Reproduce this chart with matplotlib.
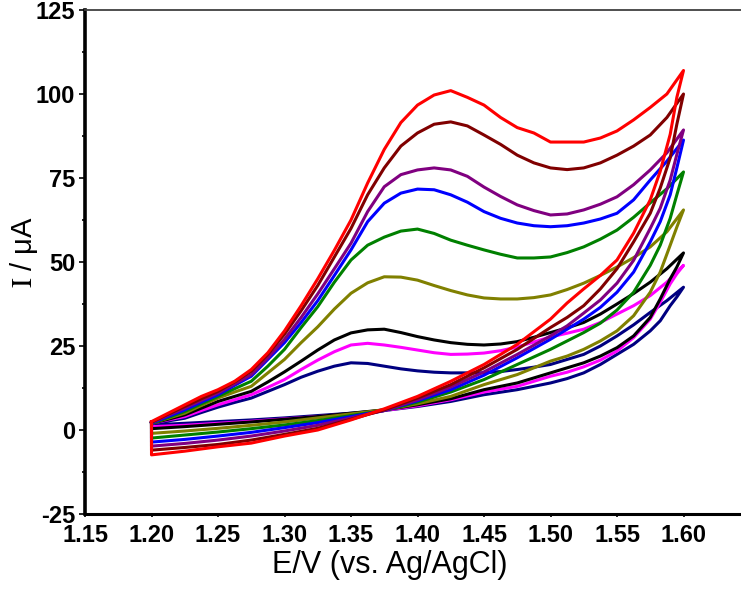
import matplotlib.pyplot as plt
import numpy as np

plt.rcParams['font.family'] = ['Liberation Sans', 'DejaVu Sans']
plt.rcParams['mathtext.fontset'] = 'stix'
plt.rcParams['axes.unicode_minus'] = False

# potentials for the anodic (forward) and cathodic (reverse) sweeps, V
E_fwd = [1.2000, 1.2125, 1.2250, 1.2375, 1.2500, 1.2625, 1.2750, 1.2875,
         1.3000, 1.3125, 1.3250, 1.3375, 1.3500, 1.3625, 1.3750, 1.3875,
         1.4000, 1.4125, 1.4250, 1.4375, 1.4500, 1.4625, 1.4750, 1.4875,
         1.5000, 1.5125, 1.5250, 1.5375, 1.5500, 1.5625, 1.5750, 1.5875,
         1.6000]
E_rev = [1.6000, 1.5950, 1.5900, 1.5825, 1.5750, 1.5625, 1.5500, 1.5375,
         1.5250, 1.5125, 1.5000, 1.4750, 1.4500, 1.4250, 1.4000, 1.3750,
         1.3500, 1.3250, 1.3000, 1.2750, 1.2500, 1.2250, 1.2000]

# currents in uA, one list per scan
navy_fwd = [2, 2.7, 3.5, 5.2, 6.8, 8.2, 9.5, 11.5, 13.5, 15.7, 17.5, 19, 20, 19.8,
            19, 18.2, 17.6, 17.2, 17, 17, 17, 17.4, 18, 18.7, 19.5, 21, 22.5, 25,
            28, 31.3, 35, 38.5, 42.5]
navy_rev = [42.5, 39.6, 37, 32.5, 29.5, 25.5, 22.5, 19.5, 17, 15.3, 14, 12, 10.5,
            8.5, 7, 5.8, 5, 4.3, 3.6, 3, 2.5, 2, 1.5]

magenta_fwd = [2, 3, 4, 5.8, 7.5, 9, 10.5, 12.7, 15, 18, 20.8, 23.3, 25.3, 25.8,
               25.3, 24.6, 23.8, 23, 22.5, 22.6, 22.9, 23.6, 24.7, 26.2, 27.7,
               28.8, 30, 32, 34.5, 37, 40, 44, 49]
magenta_rev = [49, 46.5, 43.5, 38, 33, 27.5, 23.5, 20.8, 18.8, 17.2, 16, 13, 11.3,
               9, 7.2, 5.8, 4.8, 4, 3.3, 2.6, 2, 1.4, 1]

black_fwd = [2, 3.2, 4.5, 6.5, 8.5, 10, 11.5, 14.3, 17.3, 20.5, 23.8, 26.8, 28.9,
             29.8, 30, 29, 27.8, 26.8, 26, 25.5, 25.3, 25.6, 26.3, 27.6, 29, 30.4,
             32, 34.5, 37.5, 40.6, 44, 48, 52.7]
black_rev = [52.7, 48.5, 45, 39, 33.5, 28, 24.5, 22, 20, 18.5, 17, 14, 12, 9.3, 7.5,
             6, 5, 4, 3.2, 2.4, 1.7, 1, 0.4]

olive_fwd = [2, 3.5, 5, 7.3, 9.5, 11.3, 13, 17, 21, 26, 30.7, 36, 40.7, 43.8, 45.6,
             45.5, 44.6, 43, 41.5, 40.2, 39.3, 39, 39, 39.4, 40.2, 41.8, 43.7, 46,
             48.5, 51.3, 54.5, 59, 65.5]
olive_rev = [65.5, 60.4, 55, 47, 41, 34, 29.5, 26.5, 24, 22, 20.5, 16.5, 13.5, 10,
             7.8, 6, 4.8, 3.6, 2.4, 1.4, 0.5, -0.3, -1]

green_fwd = [2, 3.7, 5.5, 7.8, 10, 12.3, 14.5, 19, 24, 30.5, 36.7, 44, 50.6, 55,
             57.4, 59.2, 59.8, 58.5, 56.5, 55, 53.6, 52.3, 51.2, 51.2, 51.5, 52.8,
             54.5, 56.8, 59.5, 63.3, 67.6, 71.8, 76.8]
green_rev = [76.8, 70, 63, 55, 49, 41, 35.7, 31.8, 29, 26.5, 24, 19.5, 15, 11.3, 8.3,
             5.8, 4.3, 2.8, 1.5, 0.4, -0.6, -1.5, -2.4]

blue_fwd = [2.1, 4, 6, 8.3, 10.5, 13.3, 16, 21, 26, 32, 38.5, 46, 53.6, 62, 67.5,
            70.5, 71.7, 71.5, 70, 67.8, 65, 63, 61.6, 60.8, 60.5, 60.8, 61.6, 62.8,
            64.5, 68.5, 74.4, 80, 86.3]
blue_rev = [86.3, 78, 70, 62, 56, 47, 41, 36.5, 33, 30, 27, 21.5, 16.3, 12, 8.7, 5.8,
            4, 2.2, 0.7, -0.7, -1.8, -2.8, -3.6]

purple_fwd = [2.2, 4.4, 6.5, 8.8, 11, 13.7, 16.5, 21.5, 27, 33.5, 40.5, 48, 55.6,
              65, 72.4, 76, 77.4, 78, 77.4, 75.5, 72.3, 69.5, 67, 65.3, 64, 64.3,
              65.5, 67.2, 69.4, 73, 77.4, 82.5, 89.3]
purple_rev = [89.3, 82, 74.4, 66, 60, 50.5, 43.7, 38.7, 34.8, 31, 28, 22.5, 17.3,
              12.8, 9, 5.8, 3.6, 1.4, -0.3, -1.8, -3, -4, -4.8]

darkred_fwd = [2.3, 4.7, 7, 9.3, 11.5, 14.3, 17.5, 22.5, 28.5, 35.5, 43, 51.5, 60,
               70, 78, 84.5, 88.4, 91, 91.7, 90.5, 87.8, 85, 81.8, 79.5, 78, 77.5, 78,
               79.5, 81.8, 84.5, 87.8, 93, 100]
darkred_rev = [100, 91, 81, 72, 64.5, 56, 48, 42, 37, 33.5, 30.5, 24, 18.5, 13.5,
               9.5, 6, 3.2, 0.5, -1.3, -3, -4.3, -5.2, -6]

red_fwd = [2.5, 5, 7.5, 10, 12, 14.5, 18, 23, 29.5, 37, 45, 53.5, 62.5, 73.5, 83.5,
           91.5, 96.7, 99.7, 101, 99, 96.7, 93, 90, 88.4, 85.7, 85.7, 85.7, 86.9, 89,
           92.3, 96, 100, 107]
red_rev = [107, 99, 88, 77, 68.5, 58.6, 50.6, 46, 42, 37.8, 33, 25.5, 19.5, 14.5, 10,
           6.3, 3, 0, -1.8, -3.9, -5, -6.3, -7.4]

scans = [
    ('#000080', navy_fwd, navy_rev),
    ('#ff00ff', magenta_fwd, magenta_rev),
    ('#000000', black_fwd, black_rev),
    ('#808000', olive_fwd, olive_rev),
    ('#008000', green_fwd, green_rev),
    ('#0000ff', blue_fwd, blue_rev),
    ('#800080', purple_fwd, purple_rev),
    ('#800000', darkred_fwd, darkred_rev),
    ('#ff0000', red_fwd, red_rev),
]

fig = plt.figure(figsize=(7.41, 5.94), dpi=100)
ax = fig.add_axes([85 / 741, 1 - 514 / 594, 665 / 741, 504 / 594])

for col, fwd, rev in scans:
    # close the loop: forward sweep, then back down to the start potential
    E = np.concatenate([E_fwd, E_rev, [E_fwd[0]]])
    I = np.concatenate([fwd, rev, [fwd[0]]])
    ax.plot(E, I, color=col, lw=2.2)

ax.set_xlim(1.15, 1.65)
ax.set_ylim(-25, 125)
xt = np.arange(1.15, 1.601, 0.05)
ax.set_xticks(xt)
ax.set_xticklabels(['%.2f' % v for v in xt])
ax.set_yticks(np.arange(-25, 126, 25))
ax.set_yticks(np.arange(-12.5, 125, 25), minor=True)

for lab in ax.get_xticklabels() + ax.get_yticklabels():
    lab.set_fontweight('bold')
    lab.set_fontsize(17)

ax.tick_params(axis='y', which='major', direction='out', length=4, width=1.2, pad=3)
ax.tick_params(axis='y', which='minor', direction='out', length=2.5, width=1.2)
ax.tick_params(axis='x', which='major', direction='out', length=2.5, width=1.2, pad=5)

ax.spines['left'].set_linewidth(2.6)
ax.spines['bottom'].set_linewidth(2.2)
ax.spines['top'].set_linewidth(1.3)
ax.spines['top'].set_color('#404040')
ax.spines['right'].set_visible(False)

ax.set_xlabel('E/V (vs. Ag/AgCl)', fontsize=22)
ax.set_ylabel(r'$\mathrm{I}$ / μA', fontsize=21)
ax.xaxis.set_label_coords(0.459, -0.072)
ax.yaxis.set_label_coords(-0.068, 0.52)

fig.savefig('out.png', dpi=100)
